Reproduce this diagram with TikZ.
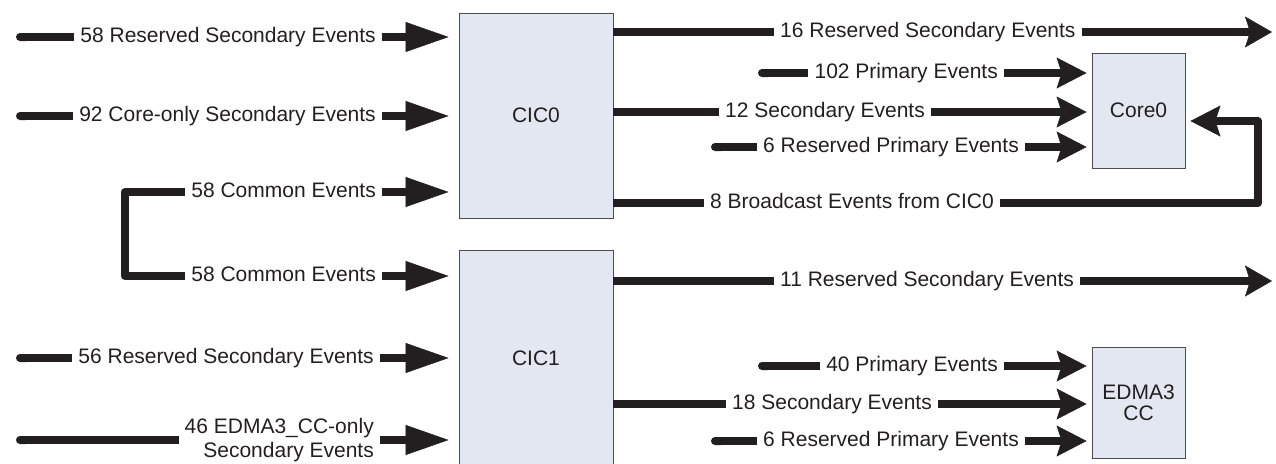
\documentclass[tikz,border=0pt]{standalone}
\usepackage{fontspec}
\setmainfont{Liberation Sans}
\usepackage{xcolor}
\usetikzlibrary{arrows.meta,calc}

\definecolor{ink}{HTML}{231F20}
\definecolor{boxfill}{HTML}{E3E7F1}
\definecolor{boxline}{HTML}{4D4D4D}

\begin{document}
\begin{tikzpicture}[
    x=1pt, y=-1pt,
    font=\fontsize{21}{24}\selectfont,
    blk/.style  = {draw=boxline, fill=boxfill, line width=0.9pt,
                   inner sep=0pt, text=ink, align=center},
    lbl/.style  = {inner xsep=6pt, inner ysep=0pt, text=ink,
                   text height=15pt, text depth=4pt},
    lbl2/.style = {inner xsep=6pt, inner ysep=0pt, text=ink, align=right},
    wire/.style = {draw=ink, line width=8pt, line cap=butt},
    feed/.style = {wire, {Round Cap[]}-},
    arrin/.style= {wire, -{Triangle[length=43pt, width=30pt, line width=0.5pt]},
                   shorten >=10pt},
    arr/.style  = {wire, -{Stealth[length=30pt, width=31pt, inset=5pt, line width=0.5pt]},
                   shorten >=5pt},
    arrout/.style = {wire, -{Stealth[length=27pt, width=31pt, inset=5pt, line width=0.5pt]}},
]
\useasboundingbox (0,0) rectangle (1276,463);

% ============ Blocks ============
\node[blk, minimum width=154pt, minimum height=205pt] (cic0) at (536,115.5) {CIC0};
\node[blk, minimum width=154pt, minimum height=216pt] (cic1) at (536,358) {CIC1};
\node[blk, minimum width=93pt, minimum height=115pt] (core0) at (1138.5,110.5) {Core0};
\node[blk, minimum width=93pt, minimum height=111pt] (edma) at (1138.5,402.5) {EDMA3\\[-3pt]CC};

% ============ Inputs to CIC0 ============
\coordinate (s1) at (16,37);
\coordinate (s2) at (16,116);
\node[lbl, anchor=east] (in1) at (382,37)  {58 Reserved Secondary Events};
\node[lbl, anchor=east] (in2) at (382,116) {92 Core-only Secondary Events};
\draw[feed]  (s1) -- (in1);
\draw[feed]  (s2) -- (in2);
\draw[arrin] (in1) -- (in1 -| cic0.west);
\draw[arrin] (in2) -- (in2 -| cic0.west);

% common events, shared by both CICs
\node[lbl, anchor=east] (cm0) at (382,192) {58 Common Events};
\node[lbl, anchor=east] (cm1) at (382,276) {58 Common Events};
\coordinate (brk) at (125,276);
\draw[wire, line join=round] (cm0) -| (brk) -- (cm1);
\draw[arrin] (cm0) -- (cm0 -| cic0.west);
\draw[arrin] (cm1) -- (cm1 -| cic1.west);

% ============ Inputs to CIC1 ============
\coordinate (s3) at (16,358);
\coordinate (s4) at (16,440);
\node[lbl, anchor=east]  (in3) at (380,358) {56 Reserved Secondary Events};
\node[lbl2, anchor=east] (in4) at (380,440) {46 EDMA3\_CC-only\\Secondary Events};
\draw[feed]  (s3) -- (in3);
\draw[feed]  (s4) -- (in4);
\draw[arrin] (in3) -- (in3 -| cic1.west);
\draw[arrin] (in4) -- (in4 -| cic1.west);

% ============ CIC0 outputs / Core0 ============
\node[lbl, anchor=west] (o16) at (774,32) {16 Reserved Secondary Events};
\coordinate (xr1) at (1272,32);
\draw[wire]   (cic0.east |- o16) -- (o16);
\draw[arrout] (o16) -- (xr1);

\coordinate (s5) at (758,73);
\node[lbl, anchor=east] (p102) at (1004,73) {102 Primary Events};
\draw[feed] (s5) -- (p102);
\draw[arr]  (p102) -- (p102 -| core0.west);

\node[lbl, anchor=west] (s12) at (719,112) {12 Secondary Events};
\draw[wire] (cic0.east |- s12) -- (s12);
\draw[arr]  (s12) -- (s12 -| core0.west);

\coordinate (s6) at (711,147);
\node[lbl, anchor=west] (r6a) at (757,147) {6 Reserved Primary Events};
\draw[feed] (s6) -- (r6a);
\draw[arr]  (r6a) -- (r6a -| core0.west);

\node[lbl, anchor=west] (b8) at (704,203) {8 Broadcast Events from CIC0};
\coordinate (ret) at (1258,121);
\draw[wire] (cic0.east |- b8) -- (b8);
\draw[arr, line join=round] (b8) -| (ret) -- (ret -| core0.east);

% ============ CIC1 outputs / EDMA3 CC ============
\node[lbl, anchor=west] (o11) at (774,281) {11 Reserved Secondary Events};
\coordinate (xr2) at (1272,281);
\draw[wire]   (cic1.east |- o11) -- (o11);
\draw[arrout] (o11) -- (xr2);

\coordinate (s7) at (758,366);
\node[lbl, anchor=east] (p40) at (1004,366) {40 Primary Events};
\draw[feed] (s7) -- (p40);
\draw[arr]  (p40) -- (p40 -| edma.west);

\node[lbl, anchor=west] (s18) at (726,404) {18 Secondary Events};
\draw[wire] (cic1.east |- s18) -- (s18);
\draw[arr]  (s18) -- (s18 -| edma.west);

\coordinate (s8) at (711,441);
\node[lbl, anchor=west] (r6b) at (757,441) {6 Reserved Primary Events};
\draw[feed] (s8) -- (r6b);
\draw[arr]  (r6b) -- (r6b -| edma.west);

\end{tikzpicture}
\end{document}
